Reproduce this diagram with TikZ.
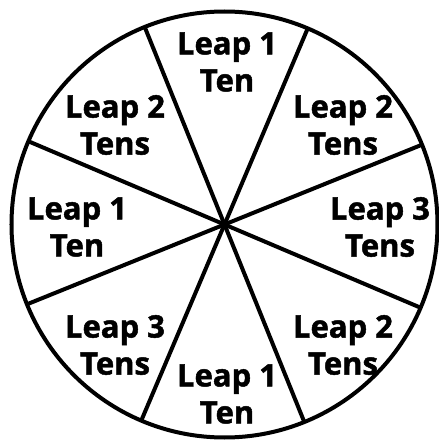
\documentclass[tikz,border=0pt]{standalone}
\usepackage{fontspec}
\setmainfont{Open Sans}[BoldFeatures={FakeBold=1.5}]
\usetikzlibrary{positioning}

\begin{document}
\begin{tikzpicture}[
x=1pt, y=1pt,
wheelrim/.style={draw, circle, line width=4pt, minimum size=426pt, inner sep=0pt, outer sep=0pt},
spoke/.style={line width=4pt},
leap/.style={align=center, font=\bfseries\fontsize{31}{37}\selectfont, inner sep=0pt}
]
\useasboundingbox (-224.5,-217.5) rectangle (214.5,224.5);
\node[wheelrim] (wheel) at (0,0) {};
\foreach \a in {22.5,67.5,...,337.5}
  \draw[spoke] (wheel.center) -- (wheel.\a);
\node[leap] (top) at (2.5,162.5) {Leap 1\\Ten};
\node[leap] (upright) at (118.5,99.5) {Leap 2\\Tens};
\node[leap] (right) at (155.5,-2.5) {Leap 3\\Tens};
\node[leap] (lowright) at (118.5,-120.5) {Leap 2\\Tens};
\node[leap] (bottom) at (2.5,-169.5) {Leap 1\\Ten};
\node[leap] (lowleft) at (-109.5,-120.5) {Leap 3\\Tens};
\node[leap] (left) at (-147.5,-2.5) {Leap 1\\Ten};
\node[leap] (upleft) at (-109.5,99.5) {Leap 2\\Tens};
\end{tikzpicture}
\end{document}
